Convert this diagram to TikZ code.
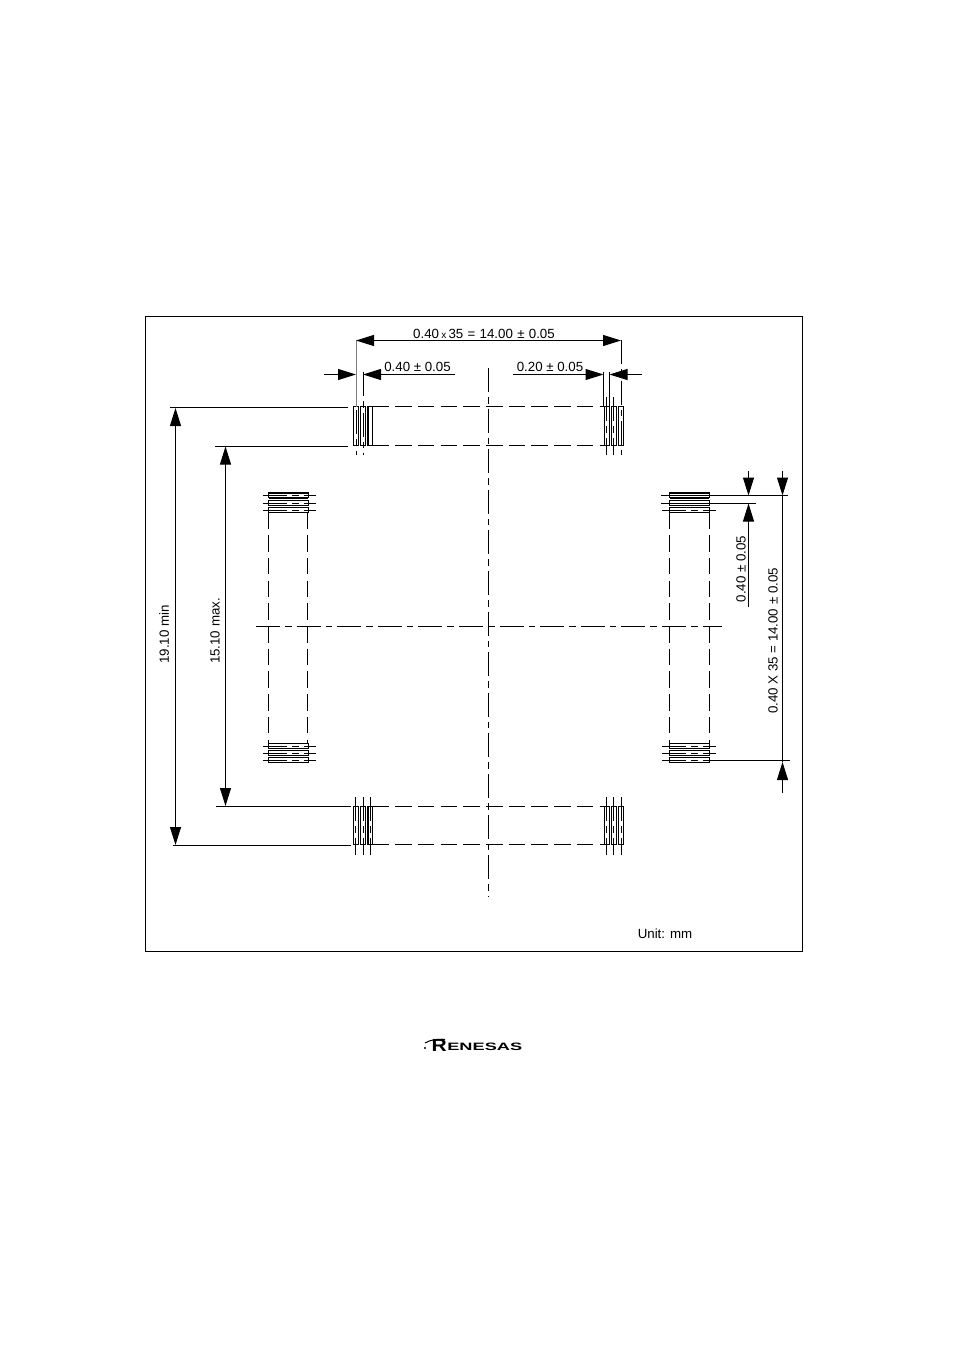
\documentclass[tikz,border=0pt]{standalone}
\usepackage{fontspec}
\setmainfont{Liberation Sans}
\usetikzlibrary{arrows.meta, positioning}

\begin{document}
\begin{tikzpicture}[
        x=1pt,y=-1pt,>={Triangle[length=18pt,width=11pt]},
        line width=1pt,
        longdash/.style={dash pattern=on 16.5pt off 6.2pt},
        centerline/.style={dash pattern=on 24pt off 5pt on 6.6pt off 5pt},
        thickedge/.style={line width=2pt},
        dimlabel/.style={inner sep=0pt,font=\fontsize{13.3pt}{14pt}\selectfont},
        logotext/.style={inner sep=0pt,font=\bfseries\fontsize{10.7pt}{12pt}\selectfont},
        ]

        \useasboundingbox (0,0) rectangle (954,1351);
        \node[draw,minimum width=656.5pt,minimum height=635pt,inner sep=0pt,anchor=north west] (frame) at (145,316) {};

        % center lines
        \coordinate (vtop) at (488.5,368);
        \coordinate (vbot) at (488.5,896);
        \coordinate (hleft) at (256,626.5);
        \coordinate (hright) at (722,626.5);
        \draw[centerline] (vtop) -- (vbot);
        \draw[centerline] (hleft) -- (hright);

        % top and bottom pads
        \foreach \padx in {353.5,360.5,367.5,604.5,611.5,618.5} {
            \draw (\padx,406.5) rectangle +(5,39);
            \draw (\padx,806.5) rectangle +(5,38);
        }
        \draw[thickedge] (368,406.5) -- (368,445.5);
        \draw[thickedge] (368,806.5) -- (368,844.5);

        % left and right pads
        \foreach \padx in {268.5,669.5} {
            \foreach \pady in {492.5,500.5,507.5,743.5,750.5,757.5} {
                \draw (\padx,\pady) rectangle +(39.5,5);
            }
            \draw[thickedge] (\padx,493) -- +(39.5,0);
            \draw[thickedge] (\padx,498) -- +(39.5,0);
        }

        % long dashed outlines
        \foreach \liney in {406.5,445.5,806.5,844.5} {
            \draw[longdash] (372.5,\liney) -- (604.5,\liney);
        }
        \foreach \linex in {268.5,307.5,669.5,709.5} {
            \draw[longdash] (\linex,512.5) -- (\linex,743.5);
        }

        % pad center lines top
        \draw[gray] (356.5,340) -- (356.5,407);
        \draw[centerline] (356.5,410) -- (356.5,455);
        \draw[centerline] (363.5,372) -- (363.5,455);
        \draw (603.5,372) -- (603.5,407);
        \draw (609.5,372) -- (609.5,407);
        \draw[centerline] (606.5,397) -- (606.5,455);
        \draw[centerline] (613.5,397) -- (613.5,455);
        \draw[centerline] (621.5,340) -- (621.5,455);

        % pad center lines bottom
        \foreach \linex in {355.5,363.5,370.5,606.5,613.5,621.5} {
            \draw[centerline] (\linex,797) -- (\linex,855);
        }

        % pad center lines sideways
        \foreach \liney in {495.5,503.5,510.5,746.5,753.5,760.5} {
            \draw[centerline] (263,\liney) -- (316,\liney);
        }
        \foreach \liney in {510.5,746.5,753.5,760.5} {
            \draw[centerline] (662,\liney) -- (716,\liney);
        }

        % dimensions on top
        \coordinate (pitchl) at (356,340.5);
        \coordinate (pitchr) at (621,340.5);
        \draw[<->] (pitchl) -- (pitchr);
        \node[dimlabel] (pitchlabel) at (484,334) {\spaceskip=4.3pt 0.40\,{\fontsize{10pt}{10pt}\selectfont x}\,35 = 14.00 ± 0.05};

        \coordinate (leadla) at (324,374.5);
        \coordinate (leadlb) at (356,374.5);
        \coordinate (leadlc) at (363,374.5);
        \coordinate (leadld) at (455,374.5);
        \draw[->] (leadla) -- (leadlb);
        \draw[->] (leadld) -- (leadlc);
        \node[dimlabel] (leadlabel) at (417.5,366.5) {0.40 ± 0.05};

        \coordinate (gapla) at (513,374.5);
        \coordinate (gaplb) at (603.5,374.5);
        \coordinate (gaplc) at (609.5,374.5);
        \coordinate (gapld) at (642,374.5);
        \draw[->] (gapla) -- (gaplb);
        \draw[->] (gapld) -- (gaplc);
        \node[dimlabel] (gaplabel) at (550,366.5) {0.20 ± 0.05};

        % dimensions on the left
        \coordinate (outera) at (170,407.5);
        \coordinate (outerb) at (348,407.5);
        \coordinate (outerc) at (173,845.5);
        \coordinate (outerd) at (351,845.5);
        \coordinate (innera) at (215,446.5);
        \coordinate (innerb) at (348,446.5);
        \coordinate (innerc) at (216,806.5);
        \coordinate (innerd) at (351,806.5);
        \draw (outera) -- (outerb);
        \draw (outerc) -- (outerd);
        \draw (innera) -- (innerb);
        \draw (innerc) -- (innerd);
        \coordinate (outert) at (175.5,408);
        \coordinate (outerbt) at (175.5,845);
        \coordinate (innert) at (225.5,446.5);
        \coordinate (innerbt) at (225.5,806);
        \draw[<->] (outert) -- (outerbt);
        \draw[<->] (innert) -- (innerbt);
        \node[dimlabel,rotate=90] (outerlabel) at (164,634.5) {19.10 min};
        \node[dimlabel,rotate=90] (innerlabel) at (215,631) {15.10 max.};

        % dimensions on the right
        \coordinate (exta) at (661,495.5);
        \coordinate (extb) at (788,495.5);
        \coordinate (extc) at (661,503.5);
        \coordinate (extd) at (756,503.5);
        \coordinate (exte) at (709,760.5);
        \coordinate (extf) at (790,760.5);
        \draw (exta) -- (extb);
        \draw (extc) -- (extd);
        \draw (exte) -- (extf);

        \coordinate (pitcha) at (748.5,471);
        \coordinate (pitchb) at (748.5,495.5);
        \coordinate (pitchc) at (748.5,503.5);
        \coordinate (pitchd) at (748.5,607);
        \draw[->] (pitcha) -- (pitchb);
        \draw[->] (pitchd) -- (pitchc);
        \node[dimlabel,rotate=90] (rpitchlabel) at (741,569) {0.40 ± 0.05};

        \coordinate (spana) at (782.5,471);
        \coordinate (spanb) at (782.5,495.5);
        \coordinate (spanc) at (782.5,762);
        \coordinate (spand) at (782.5,793);
        \draw[->] (spana) -- (spanb);
        \draw[->] (spand) -- (spanc);
        \draw (spanb) -- (spanc);
        \node[dimlabel,rotate=90] (spanlabel) at (773,641) {0.40 X 35 = 14.00 ± 0.05};

        \node[dimlabel] (unitlabel) at (665,933.5) {Unit: mm};

        % logo
        \node[logotext,anchor=base west,xscale=1.7] (logo) at (446.5,1050.5) {ENESAS};
        \node[logotext,anchor=base west,xscale=1.2,font=\bfseries\fontsize{17.5pt}{18pt}\selectfont] (logor) at (431,1051.5) {R};
        \fill (425,1048) circle (1.2pt);
        \draw (425,1043) .. controls (431,1039.5) and (437,1039) .. (445,1039.3);
\end{tikzpicture}
\end{document}
